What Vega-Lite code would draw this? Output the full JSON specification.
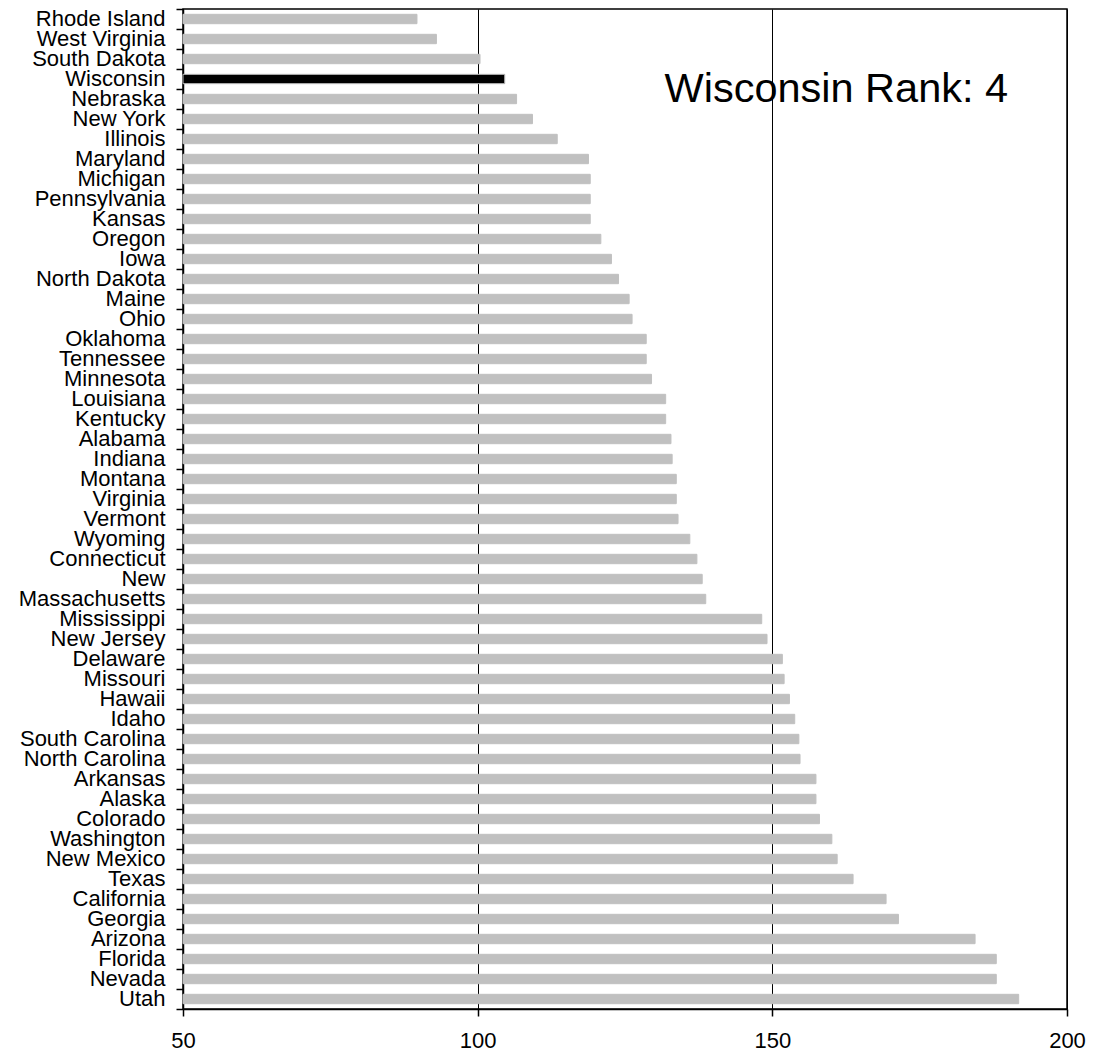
{
  "$schema": "https://vega.github.io/schema/vega-lite/v6.json",
  "width": 884,
  "height": 1000,
  "autosize": {"type": "none"},
  "padding": {"left": 183, "top": 9, "right": 29, "bottom": 46},
  "background": "white",
  "config": {
    "font": "Liberation Sans",
    "view": {"stroke": "black", "strokeWidth": 1.5}
  },
  "datasets": {
    "states": [
      {"state": "Rhode Island", "value": 89.7, "hl": "no"},
      {"state": "West Virginia", "value": 93.0, "hl": "no"},
      {"state": "South Dakota", "value": 100.4, "hl": "no"},
      {"state": "Wisconsin", "value": 104.6, "hl": "yes"},
      {"state": "Nebraska", "value": 106.6, "hl": "no"},
      {"state": "New York", "value": 109.3, "hl": "no"},
      {"state": "Illinois", "value": 113.5, "hl": "no"},
      {"state": "Maryland", "value": 118.8, "hl": "no"},
      {"state": "Michigan", "value": 119.1, "hl": "no"},
      {"state": "Pennsylvania", "value": 119.1, "hl": "no"},
      {"state": "Kansas", "value": 119.1, "hl": "no"},
      {"state": "Oregon", "value": 120.9, "hl": "no"},
      {"state": "Iowa", "value": 122.7, "hl": "no"},
      {"state": "North Dakota", "value": 123.9, "hl": "no"},
      {"state": "Maine", "value": 125.7, "hl": "no"},
      {"state": "Ohio", "value": 126.2, "hl": "no"},
      {"state": "Oklahoma", "value": 128.6, "hl": "no"},
      {"state": "Tennessee", "value": 128.6, "hl": "no"},
      {"state": "Minnesota", "value": 129.5, "hl": "no"},
      {"state": "Louisiana", "value": 131.9, "hl": "no"},
      {"state": "Kentucky", "value": 131.9, "hl": "no"},
      {"state": "Alabama", "value": 132.8, "hl": "no"},
      {"state": "Indiana", "value": 133.0, "hl": "no"},
      {"state": "Montana", "value": 133.7, "hl": "no"},
      {"state": "Virginia", "value": 133.7, "hl": "no"},
      {"state": "Vermont", "value": 134.0, "hl": "no"},
      {"state": "Wyoming", "value": 136.0, "hl": "no"},
      {"state": "Connecticut", "value": 137.2, "hl": "no"},
      {"state": "New", "value": 138.1, "hl": "no"},
      {"state": "Massachusetts", "value": 138.7, "hl": "no"},
      {"state": "Mississippi", "value": 148.2, "hl": "no"},
      {"state": "New Jersey", "value": 149.1, "hl": "no"},
      {"state": "Delaware", "value": 151.7, "hl": "no"},
      {"state": "Missouri", "value": 152.0, "hl": "no"},
      {"state": "Hawaii", "value": 152.9, "hl": "no"},
      {"state": "Idaho", "value": 153.8, "hl": "no"},
      {"state": "South Carolina", "value": 154.5, "hl": "no"},
      {"state": "North Carolina", "value": 154.7, "hl": "no"},
      {"state": "Arkansas", "value": 157.4, "hl": "no"},
      {"state": "Alaska", "value": 157.4, "hl": "no"},
      {"state": "Colorado", "value": 158.0, "hl": "no"},
      {"state": "Washington", "value": 160.1, "hl": "no"},
      {"state": "New Mexico", "value": 161.0, "hl": "no"},
      {"state": "Texas", "value": 163.7, "hl": "no"},
      {"state": "California", "value": 169.3, "hl": "no"},
      {"state": "Georgia", "value": 171.4, "hl": "no"},
      {"state": "Arizona", "value": 184.4, "hl": "no"},
      {"state": "Florida", "value": 188.0, "hl": "no"},
      {"state": "Nevada", "value": 188.0, "hl": "no"},
      {"state": "Utah", "value": 191.8, "hl": "no"}
    ],
    "note": [
      {"state": "Nebraska", "value": 131.7, "label": "Wisconsin Rank: 4"}
    ]
  },
  "encoding": {
    "y": {
      "field": "state",
      "type": "nominal",
      "sort": null,
      "scale": {"paddingInner": 0, "paddingOuter": 0},
      "axis": {
        "title": null,
        "labelFontSize": 22,
        "labelColor": "black",
        "labelPadding": 11,
        "labelOverlap": false,
        "tickSize": 7,
        "tickColor": "black",
        "tickWidth": 1.5,
        "bandPosition": 1,
        "tickExtra": true,
        "domainColor": "black",
        "domainWidth": 1.5,
        "grid": false
      }
    },
    "x": {
      "field": "value",
      "type": "quantitative",
      "scale": {"domain": [50, 200], "nice": false, "zero": false},
      "axis": {
        "title": null,
        "values": [50, 100, 150, 200],
        "labelFontSize": 22,
        "labelColor": "black",
        "labelPadding": 14,
        "tickSize": 7,
        "tickColor": "black",
        "tickWidth": 1.5,
        "domainColor": "black",
        "domainWidth": 1.5,
        "grid": true,
        "gridColor": "black",
        "gridWidth": 1,
        "gridOpacity": 1,
        "labelFlush": false
      }
    }
  },
  "layer": [
    {
      "data": {"name": "states"},
      "mark": {"type": "bar", "height": {"band": 0.47}, "stroke": "#C0C0C0", "strokeWidth": 1},
      "encoding": {
        "x2": {"datum": 50},
        "color": {
          "field": "hl",
          "type": "nominal",
          "scale": {"domain": ["no", "yes"], "range": ["#C0C0C0", "#000000"]},
          "legend": null
        }
      }
    },
    {
      "data": {"name": "note"},
      "mark": {"type": "text", "align": "left", "baseline": "alphabetic", "dy": 3, "fontSize": 41.5, "color": "black"},
      "encoding": {
        "text": {"field": "label"}
      }
    }
  ]
}
